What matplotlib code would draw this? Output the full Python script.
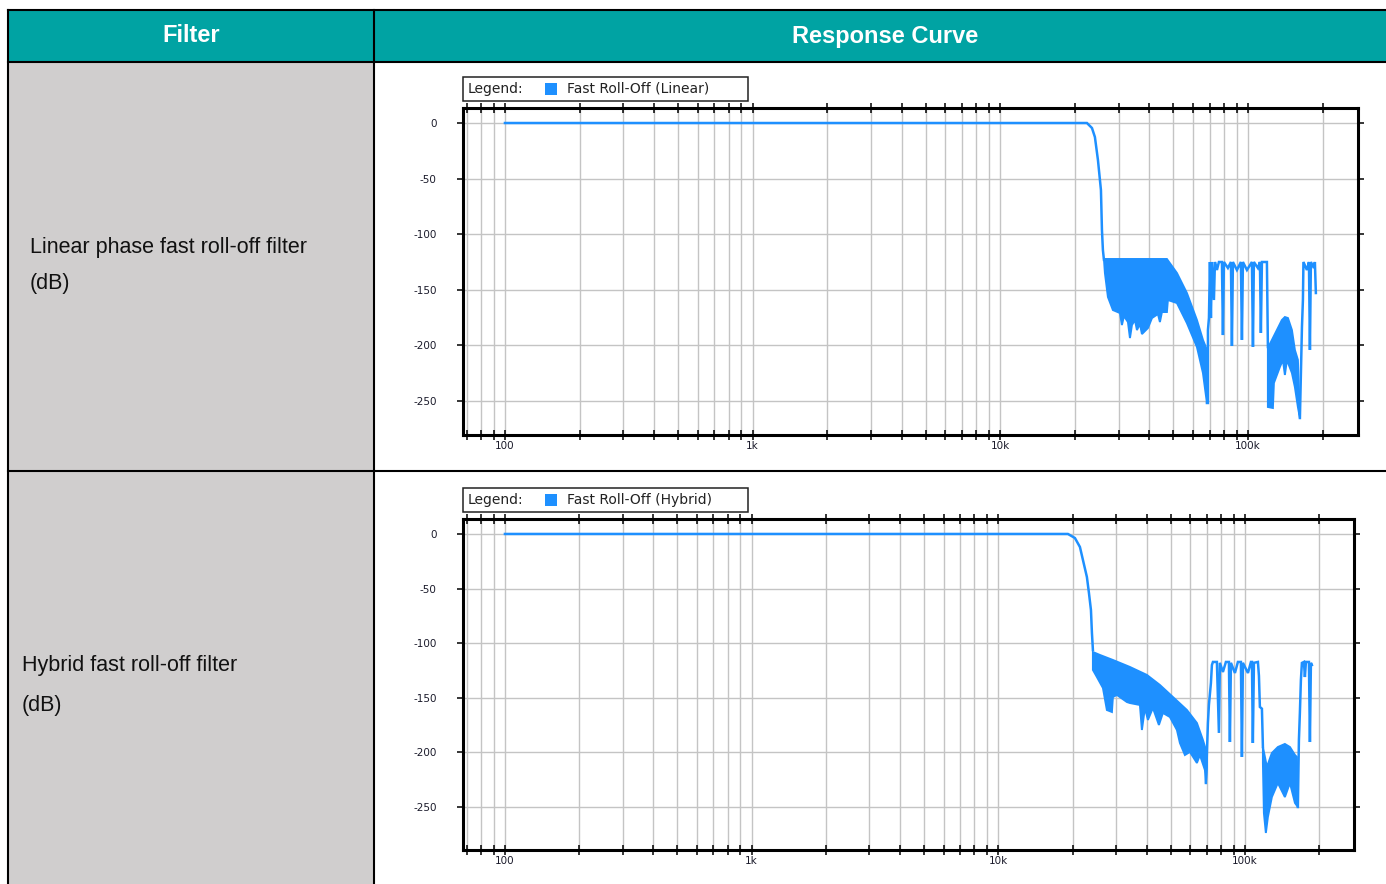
import matplotlib
matplotlib.use("Agg")
import matplotlib.pyplot as plt
from matplotlib.patches import Rectangle
from matplotlib.ticker import FixedLocator, FixedFormatter, LogLocator, NullFormatter

plt.rcParams["axes.unicode_minus"] = False

W, H = 1386, 884
BLUE = "#1E90FF"
TEAL = "#00A3A3"
CELL = "#D0CECE"
GRID = "#C4C4C4"
NARROW = ["Liberation Sans Narrow", "Liberation Sans", "DejaVu Sans"]

# ---- table text ----
headers = ["Filter", "Response Curve"]
row_titles = ["Linear phase fast roll-off filter", "Hybrid fast roll-off filter"]
row_units = ["(dB)", "(dB)"]
legend_labels = ["Fast Roll-Off (Linear)", "Fast Roll-Off (Hybrid)"]

x_ticks = [100, 1000, 10000, 100000]
x_tick_labels = ["100", "1k", "10k", "100k"]
y_ticks = [0, -50, -100, -150, -200, -250]

# ---- linear phase curve (Hz, dB) ----
lin_main_f = [100, 22370, 23440, 24090, 24780, 25480, 25720, 25950, 26200]
lin_main_db = [0, 0, -4.5, -12.6, -33.3, -60.3, -96.3, -114.3, -123]

lin_band_up_f = [26200, 47040, 51640, 56650, 62190, 65770, 68260]
lin_band_up_db = [-122.3, -122.3, -134.9, -152.9, -177.2, -195.1, -204.1]
lin_band_lo_f = [68260, 65770, 62190, 56650, 51640, 47480, 47040, 44920, 44090, 43280,
                 40950, 39440, 38710, 37300, 36610, 35610, 34950, 33990, 33370, 32750,
                 31550, 30970, 30400, 28480, 27190, 26440]
lin_band_lo_db = [-251.8, -224.8, -201.4, -179.9, -161.9, -159.2, -170.0, -170.0, -179.0, -171.8,
                  -175.4, -184.4, -186.2, -189.8, -180.8, -186.2, -177.2, -181.7, -193.4, -179.0,
                  -173.6, -181.7, -170.9, -168.2, -156.5, -134.9]

lin_spk_f = [68260, 68890, 68890, 69540, 70180, 70830, 71500, 72840, 73520, 74900,
             76300, 78460, 79200, 79930, 82950, 85310, 86100, 86900, 90200, 93600,
             94500, 95370, 99000, 103700, 104700, 105600, 109600, 111700, 112700, 113800,
             119200, 120300]
lin_spk_db = [-251.8, -251.8, -186.2, -175.4, -125, -175.4, -125, -159.2, -125, -132.2,
              -125, -125, -190.7, -125, -130.4, -125, -200.5, -125, -132.2, -125,
              -195.1, -125, -132.2, -125, -201.4, -125, -130.4, -125, -188.8, -125,
              -125, -201.4]

lin_hump_up_f = [120300, 124900, 130800, 137000, 140900, 144900, 150400, 154600, 159000]
lin_hump_up_db = [-202.3, -195.1, -186.2, -177.2, -174.5, -175.4, -186.2, -204.1, -213.1]
lin_hump_lo_f = [162000, 159000, 154600, 150400, 143600, 140900, 138300, 134500, 127200, 126000, 120300]
lin_hump_lo_db = [-265.3, -255.4, -237.4, -224.8, -213.1, -226.6, -213.1, -219.4, -233.8, -256.3, -255.4]

lin_tail_f = [162000, 165100, 166600, 167400, 172900, 176200, 177800, 179400, 184500, 186200, 187900]
lin_tail_db = [-265.3, -183.5, -159.2, -125, -132.2, -125, -204.1, -125, -130.4, -125, -152.9]

# ---- hybrid curve (Hz, dB) ----
hyb_main_f = [100, 19150, 20440, 21420, 22030, 22860, 23300, 23740, 23960, 24180]
hyb_main_db = [0, 0, -3.7, -11.9, -23.8, -39.4, -54.0, -69.6, -90.7, -106.2]

hyb_band_up_f = [24180, 25810, 29140, 34150, 40020, 45190, 51020, 58150, 63830, 67520, 70070]
hyb_band_up_db = [-108.1, -110.8, -115.4, -121.8, -129.1, -138.3, -149.3, -161.2, -173.1, -188.7, -200.6]
hyb_band_lo_f = [70070, 69420, 68780, 65650, 63830, 59790, 57070, 54470, 52970, 49610,
                 46470, 44770, 42330, 40400, 39290, 38200, 37500, 34150, 33210, 30250,
                 29140, 28870, 27550, 26550, 25100, 24180]
hyb_band_lo_db = [-213.4, -228.0, -216.1, -202.4, -209.7, -199.6, -202.4, -191.4, -179.5, -167.6,
                  -163.9, -174.9, -159.3, -170.3, -159.3, -179.5, -156.6, -154.8, -153.9, -147.4,
                  -149.3, -163.0, -161.2, -141.0, -131.0, -124.5]

hyb_spk_f = [69420, 70740, 71400, 72750, 73430, 74130, 76920, 78390, 79110, 81370,
             83670, 86060, 86860, 87680, 91020, 93590, 96250, 97160, 98060, 102800,
             105700, 106700, 107600, 108700, 112800, 113900, 114900, 117100, 118200]
hyb_spk_db = [-228.0, -173.1, -156.6, -136.5, -120.0, -117.2, -117.2, -182.2, -118, -126.4,
              -117.2, -117.2, -190.5, -118, -127.3, -117.2, -117.2, -204.2, -118, -127.3,
              -117.2, -117.2, -191.4, -118, -117.2, -130, -158.4, -160, -195.1]

hyb_hump_up_f = [118200, 122700, 128500, 135900, 145100, 152100, 159400, 162300]
hyb_hump_up_db = [-195.1, -213.4, -200.6, -195.1, -192.3, -195.1, -202.4, -204.2]
hyb_hump_lo_f = [163800, 159400, 152100, 145100, 135900, 128500, 123800, 121500, 119300, 118200]
hyb_hump_lo_db = [-250.0, -246.3, -228.0, -240.9, -228.0, -240.9, -259.2, -273.8, -255.5, -210]

hyb_tail_f = [163800, 165400, 166900, 168500, 170100, 173300, 174900, 176600, 181600, 183300, 185000, 186700]
hyb_tail_db = [-250.0, -188.7, -163.9, -133.7, -118.1, -117.2, -131.0, -117.2, -117.2, -190.5, -118, -120]


def px_axes(fig, left, top, right, bottom, **kw):
    return fig.add_axes([left / W, 1 - bottom / H, (right - left) / W, (bottom - top) / H], **kw)


def draw_panel(fig, box, xlim, ylim, lines, bands):
    ax = px_axes(fig, *box, zorder=2)
    for f, db in lines:
        ax.plot(f, db, color=BLUE, lw=1.8, solid_joinstyle="miter")
    for uf, udb, lf, ldb in bands:
        ax.fill(uf + lf, udb + ldb, facecolor=BLUE, edgecolor=BLUE, lw=1.4)

    ax.set_xscale("log")
    ax.set_xlim(*xlim)
    ax.set_ylim(*ylim)
    ax.xaxis.set_major_locator(FixedLocator(x_ticks))
    ax.xaxis.set_major_formatter(FixedFormatter(x_tick_labels))
    ax.xaxis.set_minor_locator(LogLocator(base=10, subs=range(2, 10), numticks=20))
    ax.xaxis.set_minor_formatter(NullFormatter())
    ax.set_yticks(y_ticks)
    ax.tick_params(axis="x", which="both", direction="inout", length=7, width=1.1,
                   top=True, bottom=True, labelsize=7.5, pad=1, labelcolor="#1a1a2a")
    ax.tick_params(axis="y", direction="out", length=4, width=1.1,
                   left=True, right=True, labelsize=7.5, pad=15, labelcolor="#1a1a2a")
    ax.grid(which="both", axis="x", color=GRID, lw=1.0)
    ax.grid(which="major", axis="y", color=GRID, lw=1.0)
    ax.set_axisbelow(True)
    for s in ax.spines.values():
        s.set_linewidth(2.2); s.set_color("black")
    return ax


fig = plt.figure(figsize=(W / 100, H / 100), dpi=100)
bg = fig.add_axes([0, 0, 1, 1], zorder=0)
bg.set_xlim(0, W); bg.set_ylim(H, 0); bg.axis("off")

# table cells
bg.add_patch(Rectangle((8, 10), W - 8, 52, color=TEAL, lw=0))
bg.add_patch(Rectangle((8, 62), 366, 409, color=CELL, lw=0))
bg.add_patch(Rectangle((8, 471), 366, H - 471, color=CELL, lw=0))
for y in (10, 62, 471):
    bg.plot([8, W], [y, y], color="black", lw=1.5)
for x in (8, 374):
    bg.plot([x, x], [10, H], color="black", lw=1.5)

bg.text(191, 36, headers[0], color="white", fontsize=17, fontweight="bold",
        family=NARROW, ha="center", va="center")
bg.text(885, 36, headers[1], color="white", fontsize=17, fontweight="bold",
        family=NARROW, ha="center", va="center")

bg.text(30, 248, row_titles[0], fontsize=15.5, family=NARROW, ha="left", va="center", color="#111")
bg.text(30, 284, row_units[0], fontsize=15.5, family=NARROW, ha="left", va="center", color="#111")
bg.text(22, 666, row_titles[1], fontsize=15.5, family=NARROW, ha="left", va="center", color="#111")
bg.text(22, 706, row_units[1], fontsize=15.5, family=NARROW, ha="left", va="center", color="#111")

# legends
for top, label in ((77, legend_labels[0]), (488, legend_labels[1])):
    bg.add_patch(Rectangle((463, top), 285, 24, facecolor="white", edgecolor="#222", lw=1.1))
    bg.add_patch(Rectangle((545, top + 6), 12, 12, color=BLUE, lw=0))
    bg.text(468, top + 12, "Legend:", fontsize=10, ha="left", va="center", color="#222")
    bg.text(567, top + 12, label, fontsize=10, ha="left", va="center", color="#222")

draw_panel(fig, (463, 108, 1358, 435), (67.7, 278000), (-280.6, 13.5),
           [(lin_main_f, lin_main_db), (lin_spk_f, lin_spk_db), (lin_tail_f, lin_tail_db)],
           [(lin_band_up_f, lin_band_up_db, lin_band_lo_f, lin_band_lo_db),
            (lin_hump_up_f, lin_hump_up_db, lin_hump_lo_f, lin_hump_lo_db)])

draw_panel(fig, (463, 519, 1354, 850), (67.6, 276600), (-289.4, 13.7),
           [(hyb_main_f, hyb_main_db), (hyb_spk_f, hyb_spk_db), (hyb_tail_f, hyb_tail_db)],
           [(hyb_band_up_f, hyb_band_up_db, hyb_band_lo_f, hyb_band_lo_db),
            (hyb_hump_up_f, hyb_hump_up_db, hyb_hump_lo_f, hyb_hump_lo_db)])

fig.savefig("out.png", dpi=100)
plt.close(fig)
